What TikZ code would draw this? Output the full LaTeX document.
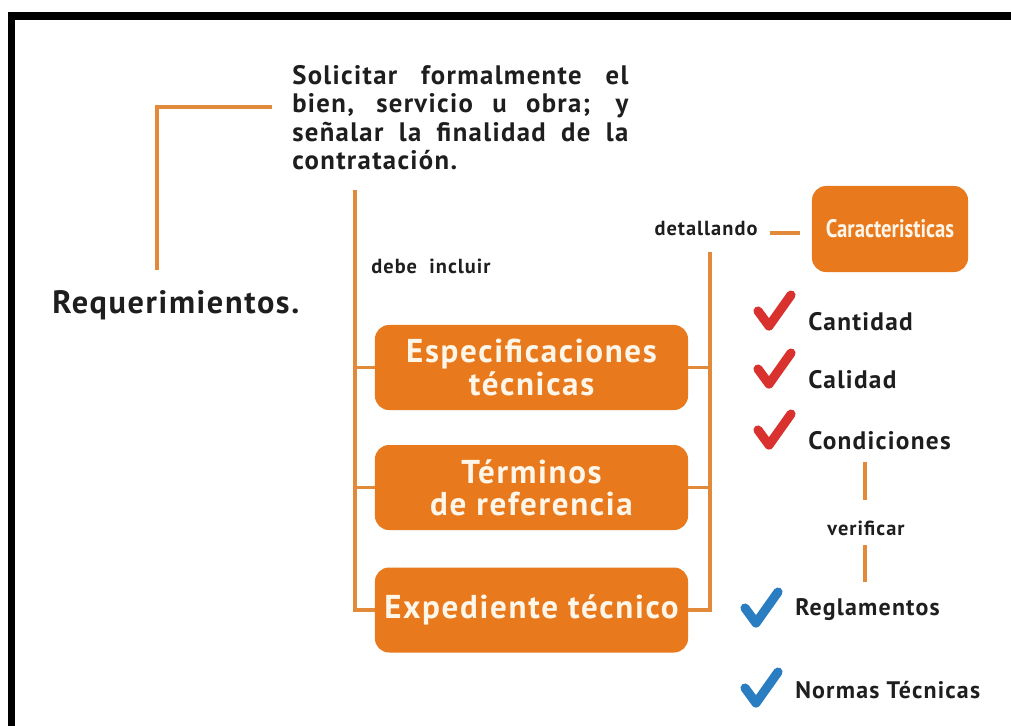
\documentclass[tikz,border=0pt]{standalone}
\usepackage{fontspec}
\setmainfont{PT Sans}[LetterSpace=5]
\newfontfamily\narrowfont{PT Sans}[FakeStretch=0.82]
\usetikzlibrary{positioning}
\definecolor{boxorange}{HTML}{E8791D}
\definecolor{lineorange}{HTML}{E3893A}
\definecolor{tickred}{HTML}{D8312E}
\definecolor{tickblue}{HTML}{2B7DC1}
\definecolor{ink}{HTML}{1E1E1E}
\definecolor{cream}{HTML}{FFF6EA}

\begin{document}
\begin{tikzpicture}[
  x=0.025cm, y=-0.025cm,
  box/.style={fill=boxorange, rounded corners=10pt, minimum width=7.825cm, minimum height=2.125cm,
              text=cream, font=\bfseries\fontsize{23.5}{23}\selectfont, align=center, inner sep=0pt},
  link/.style={draw=lineorange, line width=2.8pt},
  lbl/.style={font=\bfseries\fontsize{14.5}{16}\selectfont, text=ink, inner sep=1pt},
  item/.style={font=\bfseries\fontsize{18}{20}\selectfont, text=ink, anchor=west, inner sep=0pt},
  chk/.pic={\draw[line width=6.5pt, line cap=round, line join=round, pic actions] (0,0) -- (11,15) -- (33,-16);}
]
  \useasboundingbox (0,0) rectangle (1011,725);

  % Frame
  \draw[line width=0.19cm] (11.5,740) -- (11.5,16) -- (1030,16);

  % Request text
  \node[anchor=north west, text width=8.4cm, align=justify, inner sep=0pt, text=ink,
        font=\bfseries\fontsize{19}{20.3}\selectfont] (sol) at (292,65)
    {Solicitar formalmente el\linebreak bien, servicio u obra; y\linebreak se\~nalar la finalidad de la\linebreak contrataci\'on.};

  % Title
  \node[anchor=base west, inner sep=0pt, text=ink, font=\bfseries\fontsize{23}{26}\selectfont] (req)
    at (52,313) {Requerimientos.};

  % Documents
  \node[box] (esp) at (531.5,367.5) {Especificaciones\\t\'ecnicas};
  \node[box] (ter) at (531.5,487.5) {T\'erminos\\de referencia};
  \node[box] (exp) at (531.5,610) {Expediente t\'ecnico};

  % Characteristics
  \node[box, minimum width=3.9cm, minimum height=2.15cm, font=\narrowfont\bfseries\fontsize{18}{20}\selectfont]
    (car) at (890,229) {Caracteristicas};

  % Labels
  \node[lbl] (debe) at (431,266) {debe\ \ incluir};
  \node[lbl] (det) at (706,228) {detallando};
  \node[lbl] (verif) at (866,528) {verificar};

  % Items
  \node[item] (cant) at (808,322) {Cantidad};
  \node[item] (cal) at (808,380) {Calidad};
  \node[item] (cond) at (808,441) {Condiciones};
  \node[item, font=\bfseries\fontsize{17}{19}\selectfont] (regl) at (795,610) {Reglamentos};
  \node[item, font=\bfseries\fontsize{17}{19}\selectfont] (norm) at (795,690) {Normas T\'ecnicas};

  % Checks
  \pic[draw=tickred] at (758,311) {chk};
  \pic[draw=tickred] at (758,369) {chk};
  \pic[draw=tickred] at (758,430) {chk};
  \pic[draw=tickblue] at (745,608) {chk};
  \pic[draw=tickblue] at (745,688) {chk};

  % Bracket to title
  \coordinate (b1) at (272,107);
  \coordinate (b2) at (157,270);
  \draw[link] (b1) -| (b2);

  % Left trunk
  \coordinate (tl) at (355,190);
  \draw[link] (tl) |- (exp.west);
  \draw[link] (tl |- esp.west) -- (esp.west);
  \draw[link] (tl |- ter.west) -- (ter.west);

  % Right trunk
  \coordinate (tr) at (710,252);
  \draw[link] (tr) |- (exp.east);
  \draw[link] (tr |- esp.east) -- (esp.east);
  \draw[link] (tr |- ter.east) -- (ter.east);

  % detallando
  \draw[link, shorten <=8pt, shorten >=8pt] (det.east |- 0,233) -- (car.west |- 0,233);

  % verificar
  \draw[link] (865,462) -- (865,500);
  \draw[link] (865,545) -- (865,582);

\end{tikzpicture}
\end{document}
